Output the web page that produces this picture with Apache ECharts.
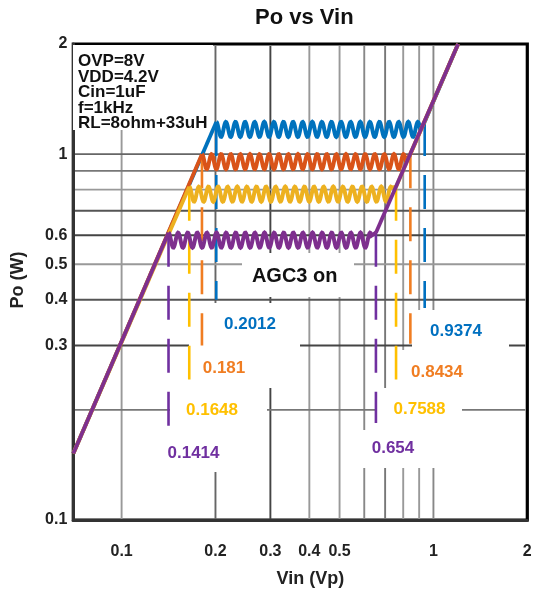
<!DOCTYPE html>
<html><head><meta charset="utf-8">
<script src="https://cdn.jsdelivr.net/npm/echarts@6/dist/echarts.min.js"></script>
<style>html,body{margin:0;padding:0;background:#fff}#c{width:537px;height:593px}</style>
</head><body><div id="c"></div>
<script>
// ---------------- data ----------------
const curveNames = ['AGC level 1', 'AGC level 2', 'AGC level 3', 'AGC level 4'];
const edgeVin = [0.07, 1.2];          // start / end of the Po ~ Vin^2 diagonal
const edgePo = [0.152, 2.0];
const kneeLowVin = [0.2012, 0.181, 0.1648, 0.1414];   // AGC engages
const kneeHighVin = [0.9374, 0.8434, 0.7588, 0.654];  // AGC releases
const plateauPo = [1.225, 1.0, 0.815, 0.61];
const dashEndLowPo = [0.40, 0.30, 0.242, 0.181];
const dashEndHighPo = [0.38, 0.303, 0.242, 0.184];
const kneeLowText = ['0.2012', '0.181', '0.1648', '0.1414'];
const kneeHighText = ['0.9374', '0.8434', '0.7588', '0.654'];
const xTickLabels = [0.1, 0.2, 0.3, 0.4, 0.5, 1, 2];
const yTickLabels = [0.1, 0.3, 0.4, 0.5, 0.6, 1, 2];
const xGridVin = [0.1, 0.2, 0.3, 0.4, 0.5, 0.6, 0.7, 0.8, 0.9, 1];
const yGridPo = [0.2, 0.3, 0.4, 0.5, 0.6, 0.7, 0.8, 0.9, 1];
const conditionText = ['OVP=8V', 'VDD=4.2V', 'Cin=1uF', 'f=1kHz', 'RL=8ohm+33uH'];

// ---------------- styles ----------------
const lineColors = ['#0072BD', '#D95319', '#EDB120', '#7E2F8E'];
const dashColors = ['#0070C0', '#F07D22', '#FFC000', '#7030A0'];
const xGridColors = ['#999', '#666', '#444', '#999', '#999', '#888', '#777', '#999', '#999', '#888'];
const yGridColors = ['#777', '#444', '#555', '#999', '#444', '#555', '#999', '#777', '#666'];
const WAVE_PERIOD = 9.6, WAVE_AMP = 7.5;
const lowLabelPos = [[250, 324], [224, 368.5], [212, 410], [193.5, 453]];
const highLabelPos = [[456, 331.5], [437, 372.5], [419.5, 409], [393, 448.5]];
const whiteBoxes = [
  [73, 45, 140, 85],    // condition text
  [242, 253, 112, 44],  // AGC3 on
  [205, 303, 95, 42], [189, 341, 111, 47], [170, 388, 97, 42], [170, 430, 92, 42],
  [412, 310, 97, 40], [398, 350, 92, 38], [377, 388, 85, 42], [355, 430, 85, 38]
];

const chart = echarts.init(document.getElementById('c'), null, {renderer: 'canvas'});
const FONT = 'Liberation Sans, Arial, sans-serif';

function fmt(v) { return String(+(+v).toPrecision(3)); }

const series = [];
// gridlines (vertical)
series.push({
  type: 'custom', name: 'xgrid', z: 0, silent: true, animation: false,
  data: xGridVin.map((v, i) => ({value: [v, 1], itemStyle: {color: xGridColors[i]}})),
  renderItem: function (params, api) {
    const cs = params.coordSys;
    const x = api.coord([api.value(0), 1])[0];
    return {type: 'line', shape: {x1: x, y1: cs.y + 2, x2: x, y2: cs.y + cs.height},
      style: {stroke: api.visual('color'), lineWidth: 1.9}};
  }
});
// gridlines (horizontal)
series.push({
  type: 'custom', name: 'ygrid', z: 0, silent: true, animation: false,
  data: yGridPo.map((v, i) => ({value: [1, v], itemStyle: {color: yGridColors[i]}})),
  renderItem: function (params, api) {
    const cs = params.coordSys;
    const y = api.coord([1, api.value(1)])[1];
    return {type: 'line', shape: {x1: cs.x, y1: y, x2: cs.x + cs.width - 2, y2: y},
      style: {stroke: api.visual('color'), lineWidth: 1.9}};
  }
});

for (let i = 0; i < 4; i++) {
  const zBase = 3 + i * 2;
  // vertical dashed markers
  series.push({
    type: 'line', name: curveNames[i] + ' low knee', z: zBase, silent: true, animation: false,
    symbol: 'none', lineStyle: {color: dashColors[i], width: 2.6, type: [34, 19]},
    data: [[kneeLowVin[i], plateauPo[i]], [kneeLowVin[i], dashEndLowPo[i]]]
  });
  series.push({
    type: 'line', name: curveNames[i] + ' high knee', z: zBase, silent: true, animation: false,
    symbol: 'none', lineStyle: {color: dashColors[i], width: 2.6, type: [34, 19]},
    data: [[kneeHighVin[i], plateauPo[i]], [kneeHighVin[i], dashEndHighPo[i]]]
  });
  // diagonal parts
  series.push({
    type: 'line', name: curveNames[i], z: zBase + 1, silent: true, animation: false,
    symbol: 'none', lineStyle: {color: lineColors[i], width: 3.8},
    data: [[edgeVin[0], edgePo[0]], [kneeLowVin[i], plateauPo[i]]]
  });
  series.push({
    type: 'line', name: curveNames[i] + ' (upper)', z: zBase + 1, silent: true, animation: false,
    symbol: 'none', lineStyle: {color: lineColors[i], width: 3.8},
    data: [[kneeHighVin[i], plateauPo[i]], [edgeVin[1], edgePo[1]]]
  });
  // regulated plateau (rippled)
  const col = lineColors[i];
  series.push({
    type: 'custom', name: curveNames[i] + ' plateau', z: zBase + 1, silent: true, animation: false,
    encode: {x: [0, 1], y: 2},
    data: [[kneeLowVin[i], kneeHighVin[i], plateauPo[i]]],
    renderItem: function (params, api) {
      const a = api.coord([api.value(0), api.value(2)]);
      const b = api.coord([api.value(1), api.value(2)]);
      const pts = [];
      for (let x = a[0]; x <= b[0] - 4; x += 0.5) {
        const t = (x - a[0]) / WAVE_PERIOD;
        pts.push([x, a[1] + WAVE_AMP * (1 - Math.cos(2 * Math.PI * t))]);
      }
      pts.push([b[0], b[1]]);
      return {type: 'polyline', shape: {points: pts}, style: {stroke: col, lineWidth: 4, fill: null}};
    }
  });
}

const graphic = [];
whiteBoxes.forEach(b => graphic.push({type: 'rect', z: 1, silent: true,
  shape: {x: b[0], y: b[1], width: b[2], height: b[3]}, style: {fill: '#fff'}}));
graphic.push({type: 'text', z: 20, x: 78, y: 54, silent: true,
  style: {text: conditionText.join('\n'), font: 'bold 17px ' + FONT, lineHeight: 15.5, fill: '#111',
    align: 'left', verticalAlign: 'top'}});
graphic.push({type: 'text', z: 20, x: 294.7, y: 276, silent: true,
  style: {text: 'AGC3 on', font: 'bold 20px ' + FONT, fill: '#111', align: 'center', verticalAlign: 'middle'}});
for (let i = 0; i < 4; i++) {
  graphic.push({type: 'text', z: 20, x: lowLabelPos[i][0], y: lowLabelPos[i][1], silent: true,
    style: {text: kneeLowText[i], font: 'bold 17px ' + FONT, fill: dashColors[i], align: 'center', verticalAlign: 'middle'}});
  graphic.push({type: 'text', z: 20, x: highLabelPos[i][0], y: highLabelPos[i][1], silent: true,
    style: {text: kneeHighText[i], font: 'bold 17px ' + FONT, fill: dashColors[i], align: 'center', verticalAlign: 'middle'}});
}

chart.setOption({
  animation: false,
  backgroundColor: '#fff',
  title: {text: 'Po vs Vin', left: 255, top: 7, padding: 0,
    textStyle: {fontFamily: FONT, fontWeight: 'bold', fontSize: 22, color: '#111'}},
  grid: {left: 73.3, right: 9.7, top: 44, bottom: 69.7, show: true, borderColor: '#000', borderWidth: 3.2,
    backgroundColor: 'transparent'},
  xAxis: {
    type: 'log', logBase: 10, min: 0.07, max: 2,
    name: 'Vin (Vp)', nameLocation: 'middle', nameGap: 50,
    nameTextStyle: {fontFamily: FONT, fontWeight: 'bold', fontSize: 18, color: '#222', padding: [0, 0, 0, 20]},
    axisLine: {show: true, lineStyle: {color: '#333', width: 3}},
    axisTick: {show: false}, splitLine: {show: false}, minorSplitLine: {show: false},
    axisLabel: {customValues: xTickLabels, formatter: fmt, margin: 24,
      fontFamily: FONT, fontWeight: 'bold', fontSize: 16, color: '#222'}
  },
  yAxis: {
    type: 'log', logBase: 10, min: 0.1, max: 2,
    name: 'Po (W)', nameLocation: 'middle', nameGap: 46,
    nameTextStyle: {fontFamily: FONT, fontWeight: 'bold', fontSize: 18, color: '#222', padding: [0, 0, 0, 4]},
    axisLine: {show: true, lineStyle: {color: '#333', width: 3}},
    axisTick: {show: false}, splitLine: {show: false}, minorSplitLine: {show: false},
    axisLabel: {customValues: yTickLabels, formatter: fmt, margin: 6,
      fontFamily: FONT, fontWeight: 'bold', fontSize: 16, color: '#222'}
  },
  graphic: graphic,
  series: series
});
</script></body></html>
